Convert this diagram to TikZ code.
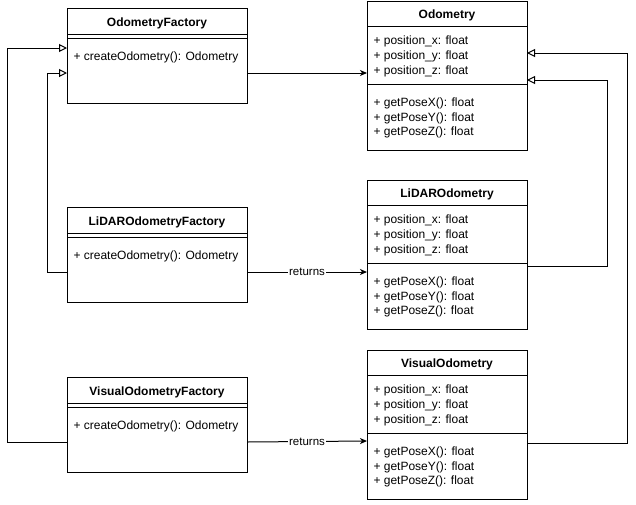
\documentclass[tikz,border=0pt]{standalone}
\usepackage{fontspec}
\setmainfont{Liberation Sans}
\usetikzlibrary{arrows.meta,calc}

\begin{document}
\begin{tikzpicture}[x=1pt,y=-1pt,line width=1pt,
  classbox/.style={draw,anchor=north west,inner sep=0pt,outer sep=0pt,minimum width=160,minimum height=149},
  factorybox/.style={draw,anchor=north west,inner sep=0pt,outer sep=0pt,minimum width=180,minimum height=95},
  title/.style={font=\fontsize{12}{14}\selectfont\bfseries},
  member/.style={anchor=west,inner sep=0pt,font=\fontsize{12}{14}\selectfont},
  assoc/.style={-{Stealth[length=7pt,width=6pt,inset=2pt]}},
  inherit/.style={-{Triangle[open,length=8pt,width=8pt]}},
  lbl/.style={fill=white,inner sep=1pt,font=\fontsize{11.5}{13}\selectfont}]
\useasboundingbox (0,0) rectangle (636,504);

% factories
\node[factorybox] (ofac) at (67,8) {};
\node[title] (ofac-t) at ($(ofac.north)+(0,15.5)$) {OdometryFactory};
\draw ($(ofac.north west)+(0,26)$) -- ++(180,0);
\draw ($(ofac.north west)+(0,30)$) -- ++(180,0);
\node[member] (ofac-m) at ($(ofac.north west)+(6,49.5)$) {+ createOdometry(): Odometry};

\node[factorybox] (lfac) at (67,207) {};
\node[title] (lfac-t) at ($(lfac.north)+(0,15.5)$) {LiDAROdometryFactory};
\draw ($(lfac.north west)+(0,26)$) -- ++(180,0);
\draw ($(lfac.north west)+(0,30)$) -- ++(180,0);
\node[member] (lfac-m) at ($(lfac.north west)+(6,49.5)$) {+ createOdometry(): Odometry};

\node[factorybox] (vfac) at (67,377) {};
\node[title] (vfac-t) at ($(vfac.north)+(0,15.5)$) {VisualOdometryFactory};
\draw ($(vfac.north west)+(0,26)$) -- ++(180,0);
\draw ($(vfac.north west)+(0,30)$) -- ++(180,0);
\node[member] (vfac-m) at ($(vfac.north west)+(6,49.5)$) {+ createOdometry(): Odometry};

% odometry classes
\node[classbox] (odo) at (367,1) {};
\node[title] (odo-t) at ($(odo.north)+(0,14.5)$) {Odometry};
\draw ($(odo.north west)+(0,25)$) -- ++(160,0);
\draw ($(odo.north west)+(0,83)$) -- ++(160,0);
\node[member] (odo-a1) at ($(odo.north west)+(6,40.5)$) {+ position\_x: float};
\node[member] (odo-a2) at ($(odo.north west)+(6,55.5)$) {+ position\_y: float};
\node[member] (odo-a3) at ($(odo.north west)+(6,70)$) {+ position\_z: float};
\node[member] (odo-m1) at ($(odo.north west)+(6,102.5)$) {+ getPoseX(): float};
\node[member] (odo-m2) at ($(odo.north west)+(6,117)$) {+ getPoseY(): float};
\node[member] (odo-m3) at ($(odo.north west)+(6,131.5)$) {+ getPoseZ(): float};

\node[classbox] (lodo) at (367,180) {};
\node[title] (lodo-t) at ($(lodo.north)+(0,14.5)$) {LiDAROdometry};
\draw ($(lodo.north west)+(0,25)$) -- ++(160,0);
\draw ($(lodo.north west)+(0,83)$) -- ++(160,0);
\node[member] (lodo-a1) at ($(lodo.north west)+(6,40.5)$) {+ position\_x: float};
\node[member] (lodo-a2) at ($(lodo.north west)+(6,55.5)$) {+ position\_y: float};
\node[member] (lodo-a3) at ($(lodo.north west)+(6,70)$) {+ position\_z: float};
\node[member] (lodo-m1) at ($(lodo.north west)+(6,102.5)$) {+ getPoseX(): float};
\node[member] (lodo-m2) at ($(lodo.north west)+(6,117)$) {+ getPoseY(): float};
\node[member] (lodo-m3) at ($(lodo.north west)+(6,131.5)$) {+ getPoseZ(): float};

\node[classbox] (vodo) at (367,350) {};
\node[title] (vodo-t) at ($(vodo.north)+(0,14.5)$) {VisualOdometry};
\draw ($(vodo.north west)+(0,25)$) -- ++(160,0);
\draw ($(vodo.north west)+(0,83)$) -- ++(160,0);
\node[member] (vodo-a1) at ($(vodo.north west)+(6,40.5)$) {+ position\_x: float};
\node[member] (vodo-a2) at ($(vodo.north west)+(6,55.5)$) {+ position\_y: float};
\node[member] (vodo-a3) at ($(vodo.north west)+(6,70)$) {+ position\_z: float};
\node[member] (vodo-m1) at ($(vodo.north west)+(6,102.5)$) {+ getPoseX(): float};
\node[member] (vodo-m2) at ($(vodo.north west)+(6,117)$) {+ getPoseY(): float};
\node[member] (vodo-m3) at ($(vodo.north west)+(6,131.5)$) {+ getPoseZ(): float};

% associations
\draw[assoc] ($(ofac.north east)+(0,65)$) -- ($(odo.north west)+(0,72)$);
\draw[assoc] ($(lfac.north east)+(0,65)$) -- node[lbl] {returns} ($(lodo.north west)+(0,92)$);
\draw[assoc] ($(vfac.north east)+(0,65)$) -- node[lbl] {returns} ($(vodo.north west)+(0,91)$);

% inheritance
\draw[inherit] ($(vfac.north west)+(0,65)$) -- ++(-60,0) |- ($(ofac.north west)+(0,40)$);
\draw[inherit] ($(lfac.north west)+(0,65)$) -- ++(-20,0) |- ($(ofac.north west)+(0,65)$);
\draw[inherit] ($(lodo.north east)+(0,86)$) -- ++(80,0) |- ($(odo.north east)+(0,79)$);
\draw[inherit] ($(vodo.north east)+(0,93)$) -- ++(100,0) |- ($(odo.north east)+(0,52)$);
\end{tikzpicture}
\end{document}
